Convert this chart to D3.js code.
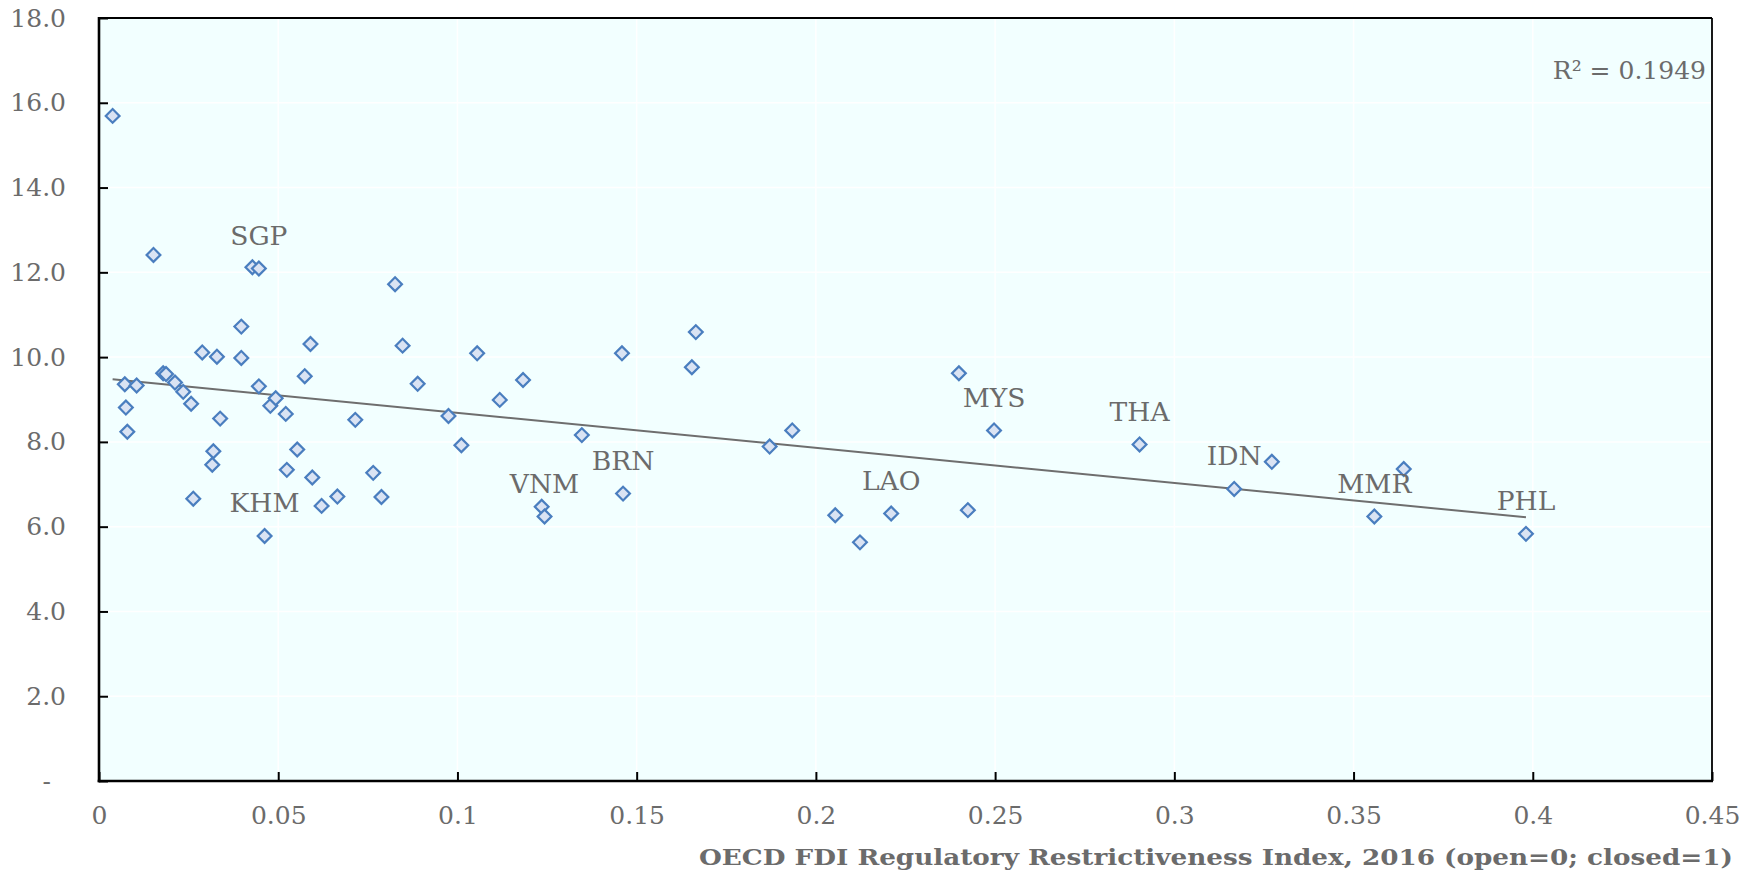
<!DOCTYPE html>
<html>
<head>
<meta charset="utf-8">
<script src="https://cdn.jsdelivr.net/npm/d3@7"></script>
<style>
  body { margin: 0; background: #ffffff; }
  svg { display: block; }
</style>
</head>
<body>
<svg id="chart"></svg>
<script>
// OECD FDI restrictiveness index (x) against the outcome on the y axis, one entry per economy
const fdiIndex = [
  0.0038, 0.0152, 0.0072, 0.0075, 0.0079, 0.0105, 0.0179, 0.0187, 0.0212, 0.0235,
  0.0257, 0.0263, 0.0288, 0.0329, 0.0338, 0.0319, 0.0316, 0.0397, 0.0397, 0.0428,
  0.0446, 0.0446, 0.0478, 0.0493, 0.0521, 0.0462, 0.0524, 0.0553, 0.0574, 0.0590,
  0.0595, 0.0621, 0.0665, 0.0715, 0.0765, 0.0788, 0.0826, 0.0847, 0.0889, 0.0975,
  0.1011, 0.1055, 0.1118, 0.1183, 0.1235, 0.1243, 0.1347, 0.1459, 0.1462, 0.1654,
  0.1665, 0.1871, 0.1934, 0.2054, 0.2123, 0.2210, 0.2399, 0.2424, 0.2497, 0.2903,
  0.3167, 0.3272, 0.3558, 0.3640, 0.3981
];
const yValues = [
  15.69, 12.41, 9.36, 8.81, 8.24, 9.33, 9.62, 9.60, 9.40, 9.18,
  8.90, 6.66, 10.11, 10.01, 8.55, 7.78, 7.46, 10.72, 9.98, 12.12,
  12.09, 9.31, 8.85, 9.03, 8.66, 5.78, 7.34, 7.82, 9.55, 10.31,
  7.16, 6.49, 6.71, 8.52, 7.27, 6.70, 11.72, 10.27, 9.37, 8.61,
  7.92, 10.09, 8.99, 9.46, 6.47, 6.24, 8.16, 10.09, 6.78, 9.76,
  10.59, 7.89, 8.27, 6.27, 5.63, 6.31, 9.62, 6.39, 8.27, 7.94,
  6.89, 7.53, 6.24, 7.36, 5.83
];
// ASEAN economies that carry a label (index into the arrays above)
const labelCodes = ["SGP", "KHM", "VNM", "BRN", "LAO", "MYS", "THA", "IDN", "MMR", "PHL"];
const labelIndex = [20, 25, 45, 48, 55, 58, 59, 60, 62, 64];
const xTicks = [0, 0.05, 0.1, 0.15, 0.2, 0.25, 0.3, 0.35, 0.4, 0.45];
const yTicks = [0, 2, 4, 6, 8, 10, 12, 14, 16, 18];
const rSquaredText = "R² = 0.1949";
const xTitle = "OECD FDI Regulatory Restrictiveness Index, 2016 (open=0; closed=1)";

const width = 1764, height = 877;
const margin = {top: 18, right: 52, bottom: 96, left: 99};
const innerW = width - margin.left - margin.right;
const innerH = height - margin.top - margin.bottom;
const serif = "'DejaVu Serif', serif";
const textGrey = "#6b6b6b";

const points = fdiIndex.map((x, i) => ({x: x, y: yValues[i]}));

const svg = d3.select("#chart").attr("width", width).attr("height", height);

const x = d3.scaleLinear().domain([0, 0.45]).range([0, innerW]);
const y = d3.scaleLinear().domain([0, 18]).range([innerH, 0]);

const g = svg.append("g").attr("transform", `translate(${margin.left},${margin.top})`);

//plot background
g.append("rect")
  .attr("width", innerW)
  .attr("height", innerH)
  .attr("fill", "#f2ffff");

//white grid
g.append("g").selectAll("line").data(xTicks.slice(1, -1)).join("line")
  .attr("x1", d => x(d)).attr("x2", d => x(d))
  .attr("y1", 0).attr("y2", innerH)
  .attr("stroke", "#ffffff").attr("stroke-width", 1.5);
g.append("g").selectAll("line").data(yTicks.slice(1, -1)).join("line")
  .attr("x1", 0).attr("x2", innerW)
  .attr("y1", d => y(d)).attr("y2", d => y(d))
  .attr("stroke", "#ffffff").attr("stroke-width", 1.5);

//least squares trend line
const mx = d3.mean(points, d => d.x), my = d3.mean(points, d => d.y);
const slope = d3.sum(points, d => (d.x - mx) * (d.y - my)) / d3.sum(points, d => (d.x - mx) ** 2);
const intercept = my - slope * mx;
const xExtent = d3.extent(points, d => d.x);
g.append("line")
  .attr("x1", x(xExtent[0])).attr("y1", y(intercept + slope * xExtent[0]))
  .attr("x2", x(xExtent[1])).attr("y2", y(intercept + slope * xExtent[1]))
  .attr("stroke", "#6e6e6e").attr("stroke-width", 2);

//diamond markers
const diamond = d3.symbol().type(d3.symbolSquare).size(95);
g.append("g").selectAll("path").data(points).join("path")
  .attr("d", diamond)
  .attr("transform", d => `translate(${x(d.x)},${y(d.y)}) rotate(45)`)
  .attr("fill", "#dae3f3")
  .attr("stroke", "#4a7ebf")
  .attr("stroke-width", 2.2);

//country labels
g.append("g").selectAll("text").data(labelIndex).join("text")
  .attr("x", d => x(points[d].x))
  .attr("y", d => y(points[d].y) - 23.5)
  .attr("text-anchor", "middle")
  .attr("font-family", serif)
  .attr("font-size", 26.5)
  .attr("fill", textGrey)
  .text((d, i) => labelCodes[i]);

//axes
const yAxis = g.append("g")
  .call(d3.axisLeft(y).tickValues(yTicks).tickSizeInner(-9).tickSizeOuter(0).tickPadding(33)
    .tickFormat(d => d === 0 ? "-" : d3.format(".1f")(d)));
const xAxis = g.append("g")
  .attr("transform", `translate(0,${innerH})`)
  .call(d3.axisBottom(x).tickValues(xTicks).tickSizeInner(-9).tickSizeOuter(0).tickPadding(25)
    .tickFormat(d => d === 0 ? "0" : String(+d.toFixed(2))));
[yAxis, xAxis].forEach(a => {
  a.select(".domain").remove();
  a.selectAll("line").attr("stroke", "#000").attr("stroke-width", 2);
  a.selectAll("text").attr("font-family", serif).attr("font-size", 25).attr("fill", textGrey);
});
yAxis.selectAll(".tick").filter(d => d === 0).select("text").attr("x", -48);

//frame: heavier left and bottom, lighter top and right
g.append("line").attr("x1", 0).attr("x2", innerW).attr("y1", 0).attr("y2", 0)
  .attr("stroke", "#000").attr("stroke-width", 1.8);
g.append("line").attr("x1", innerW).attr("x2", innerW).attr("y1", 0).attr("y2", innerH)
  .attr("stroke", "#000").attr("stroke-width", 1.8);
g.append("line").attr("x1", 0).attr("x2", 0).attr("y1", -1).attr("y2", innerH + 1.2)
  .attr("stroke", "#000").attr("stroke-width", 2.6);
g.append("line").attr("x1", -1.3).attr("x2", innerW + 1).attr("y1", innerH).attr("y2", innerH)
  .attr("stroke", "#000").attr("stroke-width", 2.6);

//R squared note
g.append("text")
  .attr("x", innerW - 6)
  .attr("y", 60.5)
  .attr("text-anchor", "end")
  .attr("font-family", serif)
  .attr("font-size", 25)
  .attr("fill", textGrey)
  .text(rSquaredText);

//x axis title
svg.append("text")
  .attr("x", 1733)
  .attr("y", 865)
  .attr("text-anchor", "end")
  .attr("font-family", serif)
  .attr("font-weight", "bold")
  .attr("font-size", 22.5)
  .attr("textLength", 1034)
  .attr("lengthAdjust", "spacingAndGlyphs")
  .attr("fill", textGrey)
  .text(xTitle);
</script>
</body>
</html>
